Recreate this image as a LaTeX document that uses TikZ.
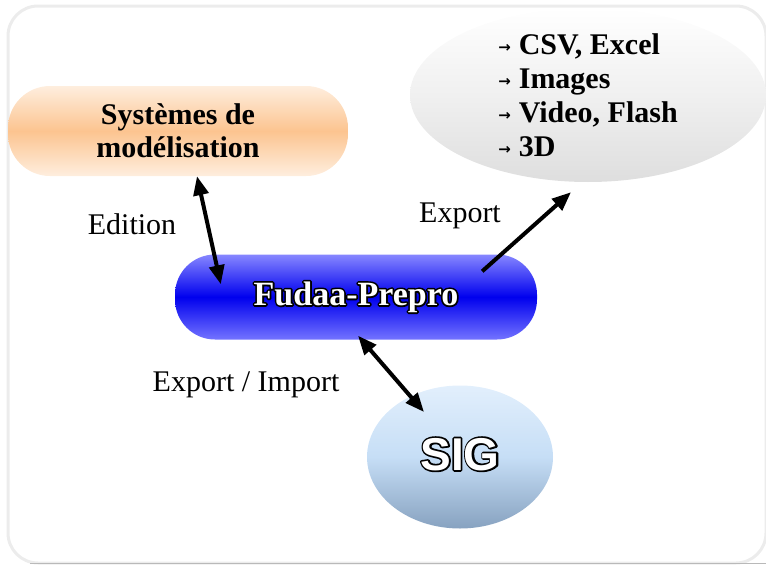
\documentclass[tikz,border=0pt]{standalone}
\usepackage{fontspec}
\setmainfont{Liberation Serif}
\setsansfont{Liberation Sans}
\newfontfamily\arrowfont{DejaVu Sans}
\usetikzlibrary{arrows.meta}
\usetikzlibrary{shapes.geometric}
\usetikzlibrary{positioning}

\definecolor{orgmid}{RGB}{252,196,144}
\definecolor{orgedge}{RGB}{254,238,222}
\definecolor{bluemid}{RGB}{0,0,238}
\definecolor{bluetop}{RGB}{135,135,255}
\definecolor{bluebot}{RGB}{115,115,255}
\definecolor{greybot}{RGB}{222,222,222}
\definecolor{greymid}{RGB}{240,240,240}
\definecolor{sigtop}{RGB}{226,239,252}
\definecolor{sigmid}{RGB}{198,222,246}
\definecolor{sigbot}{RGB}{135,162,192}
\definecolor{framecol}{RGB}{236,236,236}

\newcommand{\bul}{{\arrowfont\bfseries\fontsize{15}{15}\selectfont\raisebox{2pt}{→}}\hspace{8pt}}
% texte blanc cerne de noir
\newcommand{\outlined}[1]{\rlap{\special{pdf:literal direct 0 G 3.4 w 1 j 1 Tr}#1\special{pdf:literal direct 0 Tr}}#1}

\begin{document}
\begin{tikzpicture}[x=1pt,y=-1pt,
  sysbox/.style={rectangle, rounded corners=42pt, minimum width=340pt, minimum height=90pt,
    top color=orgedge, bottom color=orgedge, middle color=orgmid, align=center,
    font=\fontsize{30}{33}\selectfont\bfseries},
  fudaabox/.style={rectangle, rounded corners=40pt, minimum width=362pt, minimum height=85pt,
    top color=bluetop, bottom color=bluebot, middle color=bluemid, text=white,
    font=\fontsize{34}{40}\selectfont\bfseries},
  expoell/.style={ellipse, minimum width=356pt, minimum height=174pt, inner sep=0pt,
    top color=white, bottom color=greybot, middle color=greymid},
  sigell/.style={ellipse, minimum width=186pt, minimum height=143pt,
    top color=sigtop, bottom color=sigbot, middle color=sigmid, text=white,
    font=\sffamily\bfseries\fontsize{46}{50}\selectfont},
  link/.style={line width=4pt, {Triangle[length=19pt,width=15pt]}-{Triangle[length=19pt,width=15pt]}},
  onelink/.style={line width=4pt, -{Triangle[length=19pt,width=15pt]}},
  lbl/.style={font=\fontsize{30}{34}\selectfont}
  ]
\useasboundingbox (0,0) rectangle (766,565);

% cadre
\draw[framecol, line width=3pt, rounded corners=30pt] (8,6) rectangle (766,563);
\draw[gray!55, line width=1.5pt] (30,563.5) -- (766,563.5);

% blocs
\node[sysbox] (sys) at (178,131) {Systèmes de\\modélisation};
\node[fudaabox] (fudaa) at (356,297) {\outlined{Fudaa-Prepro}};
\node[expoell] (expo) at (588,95) {};
\node[align=left, font=\fontsize{30}{34}\selectfont\bfseries] (formats) at (expo.center)
  {\bul CSV, Excel\\ \bul Images\\ \bul Video, Flash\\ \bul 3D};
\node[sigell] (sig) at (460,457) {\raisebox{6pt}{\outlined{SIG}}};

% liens
\draw[link] ([xshift=19pt]sys.south) -- ([xshift=46pt,yshift=-30pt]fudaa.north west);
\draw[onelink] ([xshift=-55pt,yshift=-17pt]fudaa.north east) -- ([xshift=-17pt,yshift=-10pt]expo.south);
\draw[link] ([xshift=2pt,yshift=4pt]fudaa.south) -- ([xshift=-36pt,yshift=45pt]sig.center);

% etiquettes
\node[lbl] (edition) at (132,224) {Edition};
\node[lbl] (export) at (460,216) {Export};
\node[lbl] (expimp) at (246,385) {Export / Import};
\end{tikzpicture}
\end{document}
